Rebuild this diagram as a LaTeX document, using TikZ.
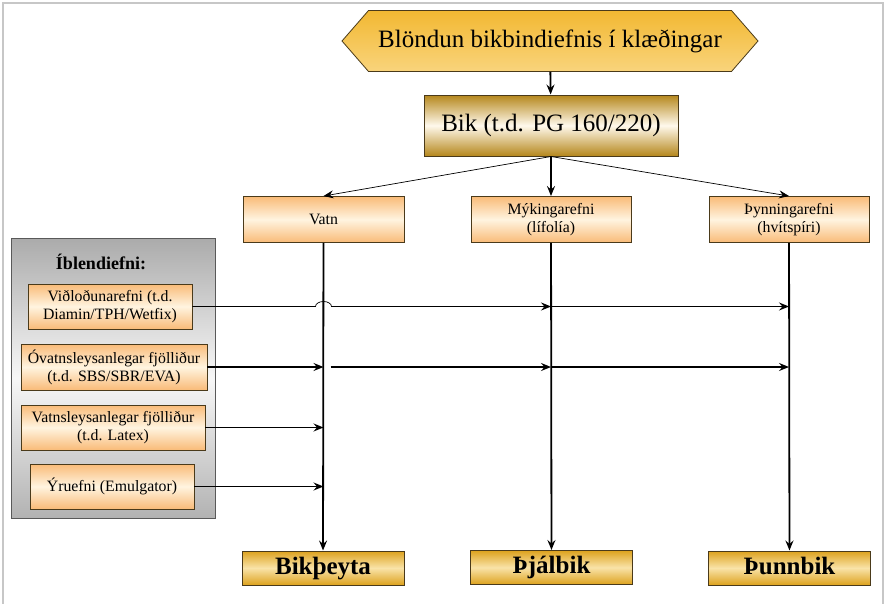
\documentclass[tikz,border=0pt]{standalone}
\usepackage{fontspec}
\setmainfont{Liberation Serif}
\usetikzlibrary{arrows.meta,shapes.symbols,positioning}

\definecolor{hextop}{HTML}{F2B832}
\definecolor{hexbot}{HTML}{F9D47C}
\definecolor{bikdark}{HTML}{B5871C}
\definecolor{bikmid}{HTML}{FFF9EC}
\definecolor{peachdark}{HTML}{F9BB78}
\definecolor{peachmid}{HTML}{FFF4E0}
\definecolor{resdark}{HTML}{DDA21E}
\definecolor{resmid}{HTML}{F9E3A8}
\definecolor{edge}{HTML}{4A3A1A}

\begin{document}
\begin{tikzpicture}[x=1pt,y=-1pt,>={Stealth[length=10pt,width=8pt,inset=3.5pt]},
  titlehex/.style={signal, signal to=west and east, signal pointer angle=98,
    draw=edge, line width=0.8pt, top color=hextop, bottom color=hexbot,
    minimum width=416pt, minimum height=61pt, inner sep=0pt,
    font=\fontsize{25}{28}\selectfont},
  bikbox/.style={draw=edge, line width=1pt, top color=bikdark, bottom color=bikdark,
    middle color=bikmid, minimum width=254pt, minimum height=61pt,
    font=\fontsize{25}{28}\selectfont},
  peachbox/.style={draw=edge, line width=0.9pt, top color=peachdark, bottom color=peachdark,
    middle color=peachmid, minimum height=46pt, align=center, inner sep=2pt,
    font=\fontsize{15.8}{18}\selectfont},
  resultbox/.style={draw=edge, line width=1pt, top color=resdark, bottom color=resdark,
    middle color=resmid, minimum width=162pt, minimum height=34pt,
    text height=17pt, text depth=5pt,
    font=\fontsize{25}{26}\selectfont\bfseries},
  graypanel/.style={draw=black!65, line width=0.9pt, top color=black!33, bottom color=black!30,
    middle color=black!3, minimum width=204pt, minimum height=280pt},
  thinline/.style={line width=0.7pt},
  thickline/.style={line width=1.8pt}]

  \useasboundingbox (0,0) rectangle (892,603);
  %page frame
  \draw[black!22, line width=1.5pt] (3,610) -- (3,3) -- (883,3) -- (883,610);

  %top of the chart
  \node[titlehex] (title) at (550,41) {Blöndun bikbindiefnis í klæðingar};
  \node[bikbox] (bik) at (551,125.5) {Bik (t.d. PG 160/220)};

  \node[peachbox, minimum width=161pt] (vatn) at (323.5,219.5) {Vatn};
  \node[peachbox, minimum width=160pt] (myk) at (551,219.5) {Mýkingarefni\\(lífolía)};
  \node[peachbox, minimum width=160pt] (thyn) at (789,219.5) {Þynningarefni\\(hvítspíri)};

  \node[resultbox] (beyta) at (323,568) {Bikþeyta};
  \node[resultbox] (thjal) at (551.5,567.5) {Þjálbik};
  \node[resultbox] (thunn) at (789.5,568) {Þunnbik};

  %additives panel
  \node[graypanel] (panel) at (113,378) {};
  \node[font=\fontsize{18}{20}\selectfont\bfseries] (ibl) at (101,262) {Íblendiefni:};
  \node[peachbox, minimum width=164pt, minimum height=45pt] (vidl) at (110,306.5) {Viðloðunarefni (t.d.\\Diamin/TPH/Wetfix)};
  \node[peachbox, minimum width=186pt] (ovatn) at (114,367) {Óvatnsleysanlegar fjölliður\\(t.d. SBS/SBR/EVA)};
  \node[peachbox, minimum width=184pt, minimum height=45pt] (vatnsl) at (113,427.5) {Vatnsleysanlegar fjölliður\\(t.d. Latex)};
  \node[peachbox, minimum width=164pt, minimum height=45pt] (yru) at (112,486.5) {Ýruefni (Emulgator)};

  %connectors
  \draw[thickline,->] (title) -- (bik);
  \draw[thinline,->] (bik.south) -- (vatn.north);
  \draw[thickline,->] (bik.south) -- (myk.north);
  \draw[thinline,->] (bik.south) -- (thyn.north);

  \draw[thickline,->] (vatn) -- (beyta);
  \draw[thickline,->] (myk) -- (thjal);
  \draw[thickline,->] (thyn) -- (thunn);

  %line jumps over the Vatn line
  \draw[thinline,->] (vidl.east) -- ([xshift=-8pt]vidl.east -| vatn.south)
    arc[start angle=180, end angle=0, x radius=8pt, y radius=5pt]
    -- (vidl.east -| myk.south);
  \draw[thickline,->] (vidl.east -| myk.south) -- (vidl.east -| thyn.south);

  \draw[thickline,->] (ovatn.east) -- (ovatn.east -| vatn.south);
  \draw[thickline,->] ([xshift=7pt]ovatn.east -| vatn.south) -- (ovatn.east -| myk.south);
  \draw[thickline,->] (ovatn.east -| myk.south) -- (ovatn.east -| thyn.south);

  \draw[thickline,->] (vatnsl.east) -- (vatnsl.east -| vatn.south);
  \draw[thickline,->] (yru.east) -- (yru.east -| vatn.south);

\end{tikzpicture}
\end{document}
